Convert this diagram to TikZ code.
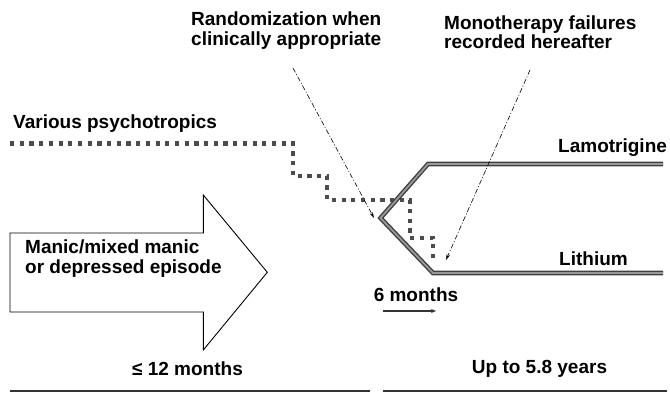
\documentclass[tikz,border=0pt]{standalone}
\usepackage{fontspec}
\setmainfont{Liberation Sans}
\usetikzlibrary{arrows.meta}
\tikzset{
  lbl/.style={inner sep=0pt, font=\fontsize{19}{19.5}\selectfont\bfseries, align=left},
  pointer/.style={line width=0.6pt, dash pattern=on 5pt off 2pt on 1pt off 2pt, -{Stealth[length=6pt,width=3.5pt]}},
  dots/.style={line width=4.2pt, black!70, dash pattern=on 4.2pt off 5.5pt, line join=miter},
  armline/.style={draw=black!75, double=black!40, line width=1.4pt, double distance=1.8pt, line join=miter},
  bigarrow/.style={draw=black, line width=0.9pt, line join=miter},
  timeline/.style={line width=2.2pt, black!80},
  shortarrow/.style={line width=1.1pt, black!80, -{Stealth[length=5pt,width=4pt]}}
}
\begin{document}
\begin{tikzpicture}[x=1pt,y=-1pt]
\useasboundingbox (0,0) rectangle (670,393);

% texts
\node[lbl, anchor=west] (rand) at (191,30.5) {Randomization when\\clinically appropriate};
\node[lbl, anchor=west] (mono) at (444,32) {Monotherapy failures\\recorded hereafter};
\node[lbl, anchor=west] (various) at (13,124) {Various psychotropics};
\node[lbl, anchor=west] (lamo) at (558,148) {Lamotrigine};
\node[lbl, anchor=west] (lith) at (559,259) {Lithium};
\node[lbl, anchor=west] (episode) at (25,258.5) {Manic/mixed manic\\or depressed episode};
\node[lbl] (six) at (416,295) {6 months};
\node[lbl] (twelve) at (187.5,369) {≤ 12 months};
\node[lbl] (upto) at (539.5,369) {Up to 5.8 years};

% big arrow
\draw[bigarrow] (10,233) -- (203.3,233) -- (203.3,195) -- (267.3,272.3) -- (203.3,350) -- (203.3,312) -- (10,312) -- cycle;

% dotted path of various psychotropics
\coordinate (d0) at (10,143.5);
\coordinate (d1) at (293,143.5);
\coordinate (d2) at (293,176);
\coordinate (d3) at (327,176);
\coordinate (d4) at (327,200);
\coordinate (d5) at (410,200);
\coordinate (d6) at (410,238);
\coordinate (d7) at (433,238);
\coordinate (d8) at (433,262);
\draw[dots] (d0) -- (d1) -- (d2) -- (d3) -- (d4) -- (d5) -- (d6) -- (d7) -- (d8);

% treatment arms
\coordinate (lamoEnd) at (663,164);
\coordinate (lamoCorner) at (428,164);
\coordinate (apex) at (380.5,218);
\coordinate (lithCorner) at (433,273);
\coordinate (lithEnd) at (663,273);
\draw[armline] (lamoEnd) -- (lamoCorner) -- (apex) -- (lithCorner) -- (lithEnd);

% pointers
\coordinate (p1s) at (293,68);
\coordinate (p1e) at (374,218);
\coordinate (p2s) at (530,70);
\coordinate (p2e) at (446,260);
\draw[pointer] (p1s) -- (p1e);
\draw[pointer] (p2s) -- (p2e);

% 6 months arrow
\coordinate (sa) at (383,311);
\coordinate (sb) at (436,311);
\draw[shortarrow] (sa) -- (sb);

% time lines
\coordinate (t1) at (10,391);
\coordinate (t2) at (370,391);
\coordinate (t3) at (383,391);
\coordinate (t4) at (667,391);
\draw[timeline] (t1) -- (t2);
\draw[timeline] (t3) -- (t4);
\end{tikzpicture}
\end{document}
